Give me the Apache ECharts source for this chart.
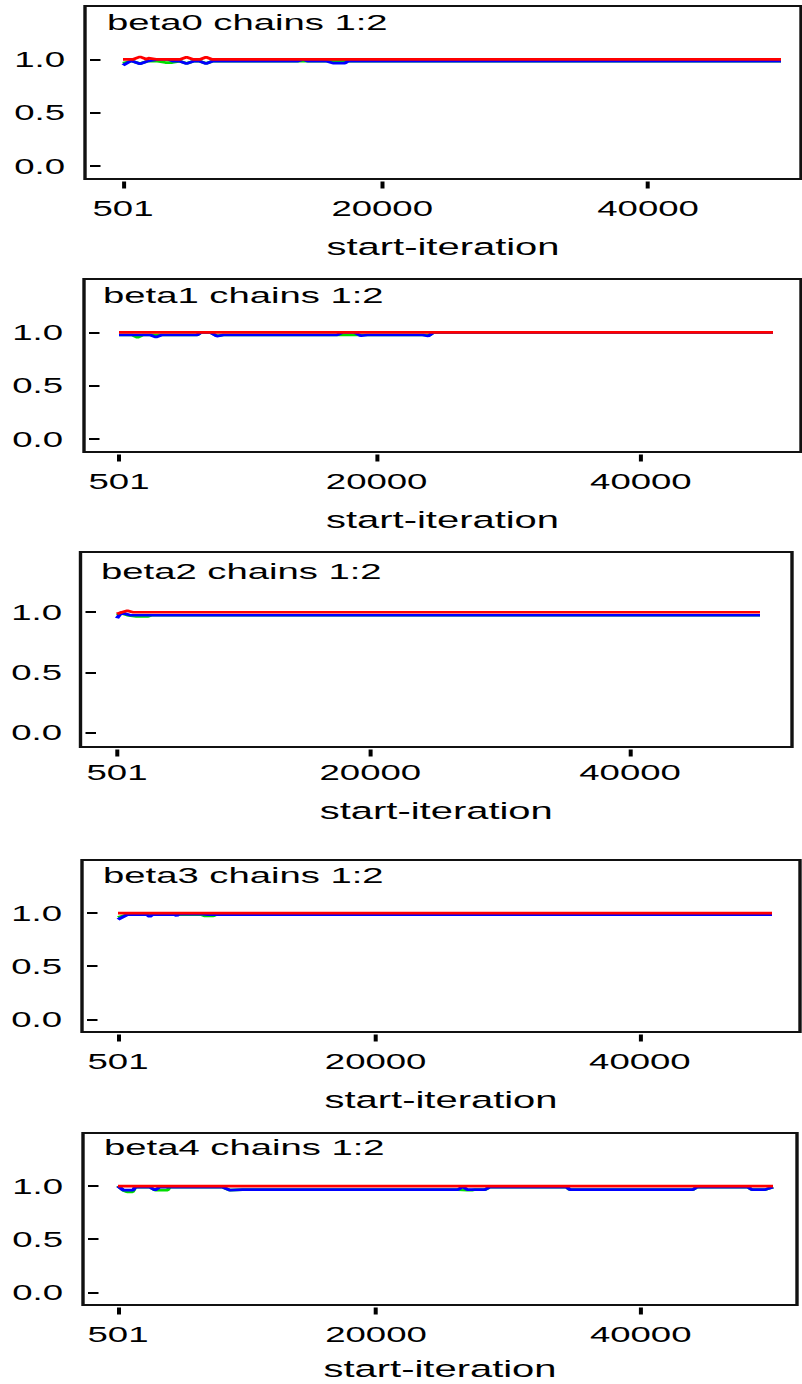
<!DOCTYPE html>
<html>
<head>
<meta charset="utf-8">
<script src="https://cdn.jsdelivr.net/npm/echarts@6/dist/echarts.min.js"></script>
<style>
html,body{margin:0;padding:0;background:#fff;overflow:hidden;width:802px;height:1384px;}
#chart{position:absolute;left:0;top:0;height:1384px;transform-origin:0 0;}
</style>
</head>
<body>
<div id="chart"></div>
<script>
// ---------------- data ----------------
const panelTitles = ['beta0 chains 1:2', 'beta1 chains 1:2', 'beta2 chains 1:2', 'beta3 chains 1:2', 'beta4 chains 1:2'];
const xTickValues = [501, 20000, 40000];
const yTickValues = [0, 0.5, 1.0];
const xAxisName = 'start-iteration';

// beta0
const beta0_green = [[501,0.965],[1030,0.982],[1250,0.982],[1780,0.96],[2300,0.982],[3100,0.982],[3700,0.97],[4200,0.97],[4800,0.982],[5280,0.962],[5770,0.982],[6300,0.982],[6750,0.962],[7200,0.982],[50000,0.982]];
const beta0_blue  = [[501,0.945],[1030,0.982],[1250,0.982],[1780,0.958],[2300,0.982],[2400,0.985],[3100,1.0],[3900,1.0],[4300,0.982],[4800,0.982],[5280,0.96],[5770,0.982],[6300,0.982],[6750,0.96],[7200,0.982],[13600,0.982],[14100,1.0],[14400,0.982],[15850,0.982],[16300,0.965],[17200,0.965],[17400,0.982],[50000,0.982]];
const beta0_red   = [[501,1.0],[1250,1.0],[1780,1.025],[2300,1.0],[2400,1.012],[3100,1.0],[4800,1.0],[5280,1.022],[5770,1.0],[6300,1.0],[6750,1.022],[7200,1.0],[50000,1.0]];
// beta1
const beta1_green = [[501,0.975],[1500,0.975],[1900,0.952],[2300,0.975],[6400,0.975],[6700,1.0],[7400,1.0],[7900,0.968],[8400,0.975],[24000,0.975],[24300,1.0],[50000,1.0]];
const beta1_blue  = [[501,0.975],[2900,0.975],[3300,0.955],[3700,0.975],[6400,0.975],[6700,1.0],[7400,1.0],[7900,0.965],[8400,0.975],[17000,0.975],[17400,1.0],[18300,1.0],[18800,0.968],[19300,0.975],[23500,0.975],[23900,0.965],[24300,1.0],[50000,1.0]];
const beta1_red   = [[501,1.0],[50000,1.0]];
// beta2
const beta2_green = [[501,0.975],[850,0.99],[1300,0.975],[2000,0.965],[2900,0.965],[3200,0.975],[50000,0.975]];
const beta2_blue  = [[501,0.95],[850,1.0],[1200,0.985],[1500,0.975],[50000,0.975]];
const beta2_red   = [[501,0.985],[900,1.0],[1300,1.012],[1700,1.0],[50000,1.0]];
// beta3
const beta3_green = [[501,0.96],[1200,0.985],[6800,0.985],[7100,0.972],[7700,0.972],[7900,0.985],[50000,0.985]];
const beta3_blue  = [[501,0.94],[1200,0.985],[2700,0.985],[2900,0.965],[3100,0.985],[4800,0.985],[4950,0.975],[5100,0.99],[6900,0.99],[7300,0.985],[50000,0.985]];
const beta3_red   = [[501,1.0],[50000,1.0]];
// beta4
const beta4_green = [[501,1.0],[900,0.96],[1200,0.945],[1600,0.945],[1800,0.99],[2900,0.99],[3300,0.962],[4250,0.962],[4400,0.99],[8400,0.99],[8950,0.962],[9900,0.967],[26200,0.967],[26900,0.962],[27250,0.962],[27500,0.967],[28250,0.967],[28600,0.99],[34400,0.99],[34650,0.967],[43950,0.967],[44250,0.99],[48100,0.99],[48400,0.967],[49400,0.967],[50000,0.99]];
const beta4_blue  = [[501,1.0],[900,0.962],[1650,0.962],[1800,0.99],[2900,0.99],[3300,0.962],[3650,0.99],[8400,0.99],[8950,0.962],[9900,0.967],[26200,0.967],[26550,0.995],[26900,0.967],[28250,0.967],[28600,0.99],[34400,0.99],[34650,0.967],[43950,0.967],[44250,0.99],[48100,0.99],[48400,0.967],[49400,0.967],[50000,0.99]];
const beta4_red   = [[501,1.0],[50000,1.0]];

const panelSeries = [
  [beta0_green, beta0_blue, beta0_red],
  [beta1_green, beta1_blue, beta1_red],
  [beta2_green, beta2_blue, beta2_red],
  [beta3_green, beta3_blue, beta3_red],
  [beta4_green, beta4_blue, beta4_red]
];
const seriesColors = ['#00dd00', '#0000ff', '#ff0000'];

// ---------------- layout (pixels of the final, horizontally stretched picture) ----------------
const K = 1.7; // horizontal stretch of the whole picture
const FONT = '"Liberation Sans", Arial, Helvetica, sans-serif';
const TICK_FS = 21.5, TITLE_FS = 22.5, NAME_FS = 23.5, NAME_LH = 20;
const Y_MIN = -0.12, Y_MAX = 1.5;
const X_OFF = 2.5;
const layout = [
  {box:[85,6,801,179],     p501:123, pEnd:781, titleLeft:107, titleBase:30,   yLabelRight:65, xLabelCenter:29.5, nameBase:76},
  {box:[84,279,801,452],   p501:119, pEnd:773, titleLeft:103, titleBase:303,  yLabelRight:63, xLabelCenter:29.5, nameBase:76},
  {box:[80.5,552,792,747], p501:117, pEnd:760, titleLeft:101, titleBase:579,  yLabelRight:62, xLabelCenter:25,   nameBase:71.5},
  {box:[82,860,800,1032],  p501:118, pEnd:772, titleLeft:103, titleBase:883,  yLabelRight:62, xLabelCenter:29.5, nameBase:76},
  {box:[83,1133,797,1305], p501:118, pEnd:773, titleLeft:104, titleBase:1155, yLabelRight:63, xLabelCenter:29.5, nameBase:72}
];

const dom = document.getElementById('chart');
const W = 802 / K;
dom.style.width = W + 'px';
dom.style.transform = 'scaleX(' + K + ')';

const grids = [], xAxes = [], yAxes = [], titles = [], series = [];
layout.forEach((L, i) => {
  const [l, t, r, b] = L.box;
  const data = panelSeries[i];
  const firstIter = xTickValues[0];
  const lastIter = data[2][data[2].length - 1][0];
  const s = (L.pEnd - L.p501) / (lastIter - firstIter);
  const xMin = firstIter - (L.p501 - l) / s;
  const xMax = firstIter + (r - L.p501) / s;

  grids.push({
    left: l / K, top: t, width: (r - l) / K, height: b - t,
    show: true, borderColor: '#111', borderWidth: 2, backgroundColor: 'transparent',
    containLabel: false, outerBoundsMode: 'none'
  });
  xAxes.push({
    type: 'value', gridIndex: i, min: xMin, max: xMax, offset: X_OFF, position: 'bottom',
    axisLine: {show: false, onZero: false},
    axisTick: {show: true, inside: false, customValues: xTickValues, length: 7, lineStyle: {color: '#000', width: 4 / K}},
    axisLabel: {show: true, customValues: xTickValues, formatter: v => String(v),
      margin: L.xLabelCenter - X_OFF - TICK_FS / 2, fontSize: TICK_FS, color: '#000', fontFamily: FONT},
    splitLine: {show: false},
    name: xAxisName, nameLocation: 'middle',
    nameGap: L.nameBase - (NAME_LH / 2 + 0.3465 * NAME_FS) - X_OFF,
    nameTextStyle: {fontSize: NAME_FS, lineHeight: NAME_LH, color: '#000', fontFamily: FONT}
  });
  yAxes.push({
    type: 'value', gridIndex: i, min: Y_MIN, max: Y_MAX, offset: -5 / K, position: 'left',
    axisLine: {show: false, onZero: false},
    axisTick: {show: true, inside: true, customValues: yTickValues, length: 10.5 / K, lineStyle: {color: '#000', width: 2}},
    axisLabel: {show: true, customValues: yTickValues, formatter: v => v.toFixed(1),
      margin: ((l + 5) - L.yLabelRight) / K, fontSize: TICK_FS, color: '#000', fontFamily: FONT},
    splitLine: {show: false}
  });
  titles.push({
    text: panelTitles[i], left: L.titleLeft / K, top: L.titleBase - 0.8465 * TITLE_FS, padding: 0,
    textStyle: {fontSize: TITLE_FS, fontWeight: 'normal', color: '#000', fontFamily: FONT}
  });
  data.forEach((d, j) => {
    series.push({
      type: 'line', xAxisIndex: i, yAxisIndex: i, data: d,
      showSymbol: false, symbol: 'none', silent: true, z: 2 + j,
      lineStyle: {color: seriesColors[j], width: 2.6},
      itemStyle: {color: seriesColors[j]},
      emphasis: {disabled: true}
    });
  });
});

const chart = echarts.init(dom, null, {renderer: 'svg', width: W, height: 1384});
chart.setOption({
  animation: false,
  backgroundColor: '#fff',
  title: titles,
  grid: grids,
  xAxis: xAxes,
  yAxis: yAxes,
  series: series
});
</script>
</body>
</html>
